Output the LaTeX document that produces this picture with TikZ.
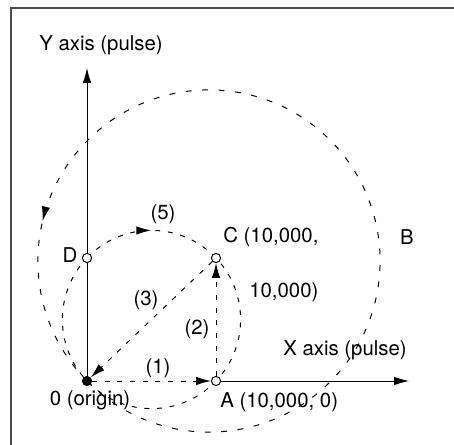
\documentclass[tikz,border=0pt]{standalone}
\usepackage{fontspec}
\setmainfont{TeX Gyre Heros}
\usetikzlibrary{arrows.meta,decorations.markings,backgrounds}

\tikzset{
  movepath/.style={line width=0.7pt,dash pattern=on 3.5pt off 5.5pt},
  widepath/.style={line width=0.7pt,dash pattern=on 4.2pt off 7.5pt},
  tip/.style={-{Latex[length=10.5pt,width=6pt]}},
  midarrow/.style={postaction={decorate},
    decoration={markings,mark=at position #1 with {\arrow{Latex[length=10.5pt,width=6pt]}}}},
  pointmark/.style={circle,draw,fill=white,line width=0.7pt,inner sep=0pt,minimum size=0.23cm},
  lbl/.style={inner sep=0pt,font=\fontsize{14.5}{17}\selectfont}
}

\begin{document}
\begin{tikzpicture}
\useasboundingbox (-2.175,-1.6) rectangle (9.175,9.525);
% frame (cut off right and below)
\draw[line width=1.3pt,black!70] (-1.89,-1.6) -- (-1.89,9.32) -- (9.175,9.32);

% the four points
\node[pointmark,fill=black] (O) at (0,0) {};
\node[pointmark] (A) at (3.225,0) {};
\node[pointmark] (C) at (3.225,3.075) {};
\node[pointmark] (D) at (0,3.075) {};
\coordinate (Ytip) at (0,7.825);
\coordinate (Xtip) at (8.05,0);

\begin{scope}[on background layer]
% axes
\draw[line width=0.7pt] (O) -- (D);
\draw[line width=0.7pt,tip] (D) -- (Ytip);
\draw[line width=0.7pt,tip] (A) -- (Xtip);
% circle through O, A, C, D
\draw[movepath,midarrow=0.128] (D.center) arc[start angle=136.36,delta angle=-360,radius=2.228];
% big circle via B
\draw[widepath,midarrow=0.839] (O.center) arc[start angle=224.53,delta angle=360,radius=4.278];
\end{scope}

% straight moves
\draw[movepath,tip] (O) -- (A);
\draw[movepath,tip] (A) -- (C);
\draw[movepath,tip] (C) -- (O);

% labels
\node[lbl] (ylab) at (0.35,8.4) {Y axis (pulse)};
\node[lbl] (xlab) at (6.45,0.775) {X axis (pulse)};
\node[lbl] (blab) at (8.0,3.6) {B};
\node[lbl,anchor=west] (clab) at (3.4,3.6) {C (10,000,};
\node[lbl,anchor=west] (clab2) at (4.05,2.225) {10,000)};
\node[lbl,anchor=west] (alab) at (3.325,-0.525) {A (10,000, 0)};
\node[lbl] (olab) at (0.075,-0.475) {0 (origin)};
\node[lbl] (dlab) at (-0.425,3.15) {D};
\node[lbl] (m1) at (1.775,0.325) {(1)};
\node[lbl] (m2) at (2.75,1.3) {(2)};
\node[lbl] (m3) at (1.475,2.025) {(3)};
\node[lbl] (m5) at (1.9,4.175) {(5)};
\end{tikzpicture}
\end{document}
